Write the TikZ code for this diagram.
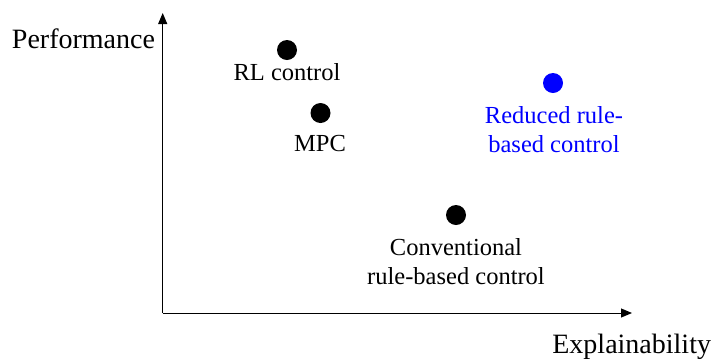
\documentclass[tikz,border=0pt]{standalone}
\usepackage{fontspec}
\setmainfont{Liberation Serif}
\usetikzlibrary{arrows.meta}
\begin{document}
\begin{tikzpicture}[x=1pt,y=-1pt,
  every node/.style={inner sep=0pt,outer sep=0pt},
  lbl/.style={font=\fontsize{24.5}{29.4}\selectfont,align=center,anchor=north},
  axlbl/.style={font=\fontsize{28}{33}\selectfont,anchor=base east},
  dot/.style={circle,fill=black,minimum size=20pt},
  axis/.style={line width=1pt,-{Triangle[length=11pt,width=9pt]}}]
  \useasboundingbox (0,0) rectangle (713,360);
  % axes
  \coordinate (o) at (162.7,313);
  \coordinate (ytip) at (162.7,13);
  \coordinate (xtip) at (632,313);
  \draw[axis] (o) -- (ytip);
  \draw[axis] (o) -- (xtip);
  \node[axlbl] (ylab) at (155,48) {Performance};
  \node[axlbl] (xlab) at (711,353) {Explainability};
  % methods
  \node[dot] (rl) at (287,50) {};
  \node[lbl] (rllab) at (287,63) {RL control};
  \node[dot] (mpc) at (320.5,113) {};
  \node[lbl] (mpclab) at (320,135.5) {MPC};
  \node[dot,fill=blue] (red) at (553,83) {};
  \node[lbl,text=blue] (redlab) at (554,106) {Reduced rule-\\based control};
  \node[dot] (conv) at (456,215) {};
  \node[lbl] (convlab) at (456,238) {Conventional\\rule-based control};
\end{tikzpicture}
\end{document}
